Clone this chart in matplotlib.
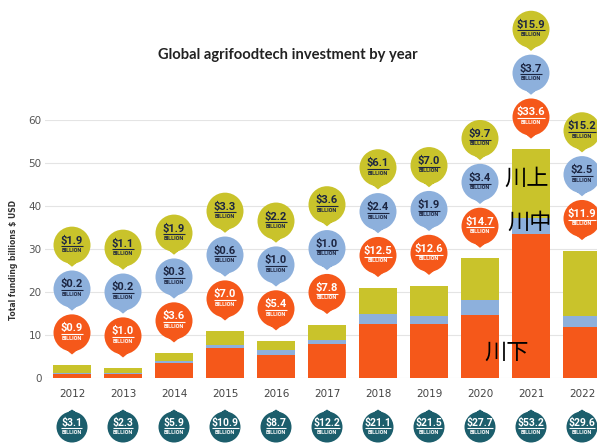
import matplotlib
matplotlib.use("Agg")
import matplotlib.pyplot as plt
import numpy as np
from matplotlib.path import Path

# Funding per year, billions of US dollars
years = ["2012", "2013", "2014", "2015", "2016", "2017",
         "2018", "2019", "2020", "2021", "2022"]
downstream = [0.9, 1.0, 3.6, 7.0, 5.4, 7.8, 12.5, 12.6, 14.7, 33.6, 11.9]
midstream = [0.2, 0.2, 0.3, 0.6, 1.0, 1.0, 2.4, 1.9, 3.4, 3.7, 2.5]
upstream = [1.9, 1.1, 1.9, 3.3, 2.2, 3.6, 6.1, 7.0, 9.7, 15.9, 15.2]
totals = [3.1, 2.3, 5.9, 10.9, 8.7, 12.2, 21.1, 21.5, 27.7, 53.2, 29.6]
stage_names = ["川上", "川中", "川下"]

ORANGE = "#f5581a"
BLUE = "#8db0dc"
YELLOW = "#c9c32b"
TEAL = "#1c5e6c"
NAVY = "#1c2541"

W, H = 597, 446
DPI = 100


def pin_marker(radius_px, tip=1.17, up=False):
    """Circle with a small pointed tip, returned as (marker path, scatter size)."""
    sign = 1 if up else -1
    tri = Path([(-0.28, sign * 0.94), (0, sign * tip), (0.28, sign * 0.94), (-0.28, sign * 0.94)],
               [Path.MOVETO, Path.LINETO, Path.LINETO, Path.CLOSEPOLY])
    if up:
        tri = Path(tri.vertices[::-1], tri.codes)
    path = Path.make_compound_path(Path.unit_circle(), tri)
    radius_pt = radius_px * 72 / DPI
    size = radius_pt * tip * 2
    return path, size ** 2


fig = plt.figure(figsize=(W / DPI, H / DPI), dpi=DPI)
ax = fig.add_axes([45 / W, 68 / H, 552 / W, 258 / H])
x = np.arange(len(years))
ax.set_xlim(-27 / 51, 525 / 51)
ax.set_ylim(0, 60)

d = np.array(downstream)
m = np.array(midstream)
u = np.array(upstream)
bw = 0.75
ax.bar(x, d, bw, color=ORANGE, zorder=2)
ax.bar(x, m, bw, bottom=d, color=BLUE, zorder=2)
ax.bar(x, u, bw, bottom=d + m, color=YELLOW, zorder=2)

ax.set_yticks(range(0, 61, 10))
ax.set_xticks(x)
ax.set_xticklabels(years)
ax.grid(axis="y", color="#e4e4e4", lw=0.8)
ax.set_axisbelow(True)
for s in ax.spines.values():
    s.set_visible(False)
ax.tick_params(axis="y", length=0, pad=2.5, labelsize=7.5, labelcolor="#555555")
ax.tick_params(axis="x", length=0, pad=8, labelsize=7.5, labelcolor="#444444")

# bubbles above the bars
top = d + m + u
y_or = top + 7.5
y_bl = y_or + 10.2
y_ye = y_bl + 10.2
y_tot = -11.4

pin_down, s_down = pin_marker(18.5)
pin_up, s_up = pin_marker(15.5, tip=1.13, up=True)

value_texts = []


def bubbles(ys, vals, face, txt_color, marker, size, vsize=8, bsize=4):
    ax.scatter(x, ys, s=size, marker=marker, c=face, edgecolors="none",
               clip_on=False, zorder=3)
    for xi, yi, v in zip(x, ys, vals):
        t = ax.annotate(f"${v:.1f}", (xi, yi), xytext=(0, 3.3), textcoords="offset points",
                        ha="center", va="center", fontsize=vsize, fontweight="bold",
                        family="Roboto", color=txt_color, zorder=4, annotation_clip=False)
        ax.annotate("BILLION", (xi, yi), xytext=(0, -3.9), textcoords="offset points",
                    ha="center", va="center", fontsize=bsize, fontweight="bold",
                    family="Roboto", color=txt_color, zorder=4, annotation_clip=False)
        value_texts.append((t, xi, yi, txt_color))


bubbles(y_or, downstream, ORANGE, "white", pin_down, s_down)
bubbles(y_bl, midstream, BLUE, NAVY, pin_down, s_down)
bubbles(y_ye, upstream, YELLOW, NAVY, pin_down, s_down)
bubbles(np.full(len(x), y_tot), totals, TEAL, "white", pin_up, s_up, vsize=7.5)

# underline every value
fig.canvas.draw()
inv = ax.transData.inverted()
for t, xi, yi, col in value_texts:
    bb = t.get_window_extent()
    cy = ax.transData.transform((xi, yi))[1] - 1.2
    (x0, y0), (x1, _) = inv.transform([(bb.x0, cy), (bb.x1, cy)])
    ax.plot([x0, x1], [y0, y0], color=col, lw=0.8, clip_on=False, zorder=4,
            solid_capstyle="butt")

# stage names on the 2021/2022 columns
cjk = ["Noto Sans CJK JP", "DejaVu Sans"]
ax.text((527 - 72) / 51, (378 - 178) / 4.3, stage_names[0], family=cjk, fontsize=16,
        ha="center", va="center", color="black", zorder=6)
ax.text((530 - 72) / 51, (378 - 222) / 4.3, stage_names[1], family=cjk, fontsize=16,
        ha="center", va="center", color="black", zorder=6)
ax.text((507 - 72) / 51, (378 - 352) / 4.3, stage_names[2], family=cjk, fontsize=16,
        ha="center", va="center", color="black", zorder=6)

fig.text(288 / W, 1 - 55 / H, "Global agrifoodtech investment by year", ha="center",
         va="center", fontsize=10.6, fontweight="bold", family="Lato", color="#222222")
fig.text(14 / W, 1 - 260 / H, "Total funding billions $ USD", rotation=90, ha="center",
         va="center", fontsize=5.5, fontweight="bold", color="#333333")

fig.savefig("out.png", dpi=DPI)
